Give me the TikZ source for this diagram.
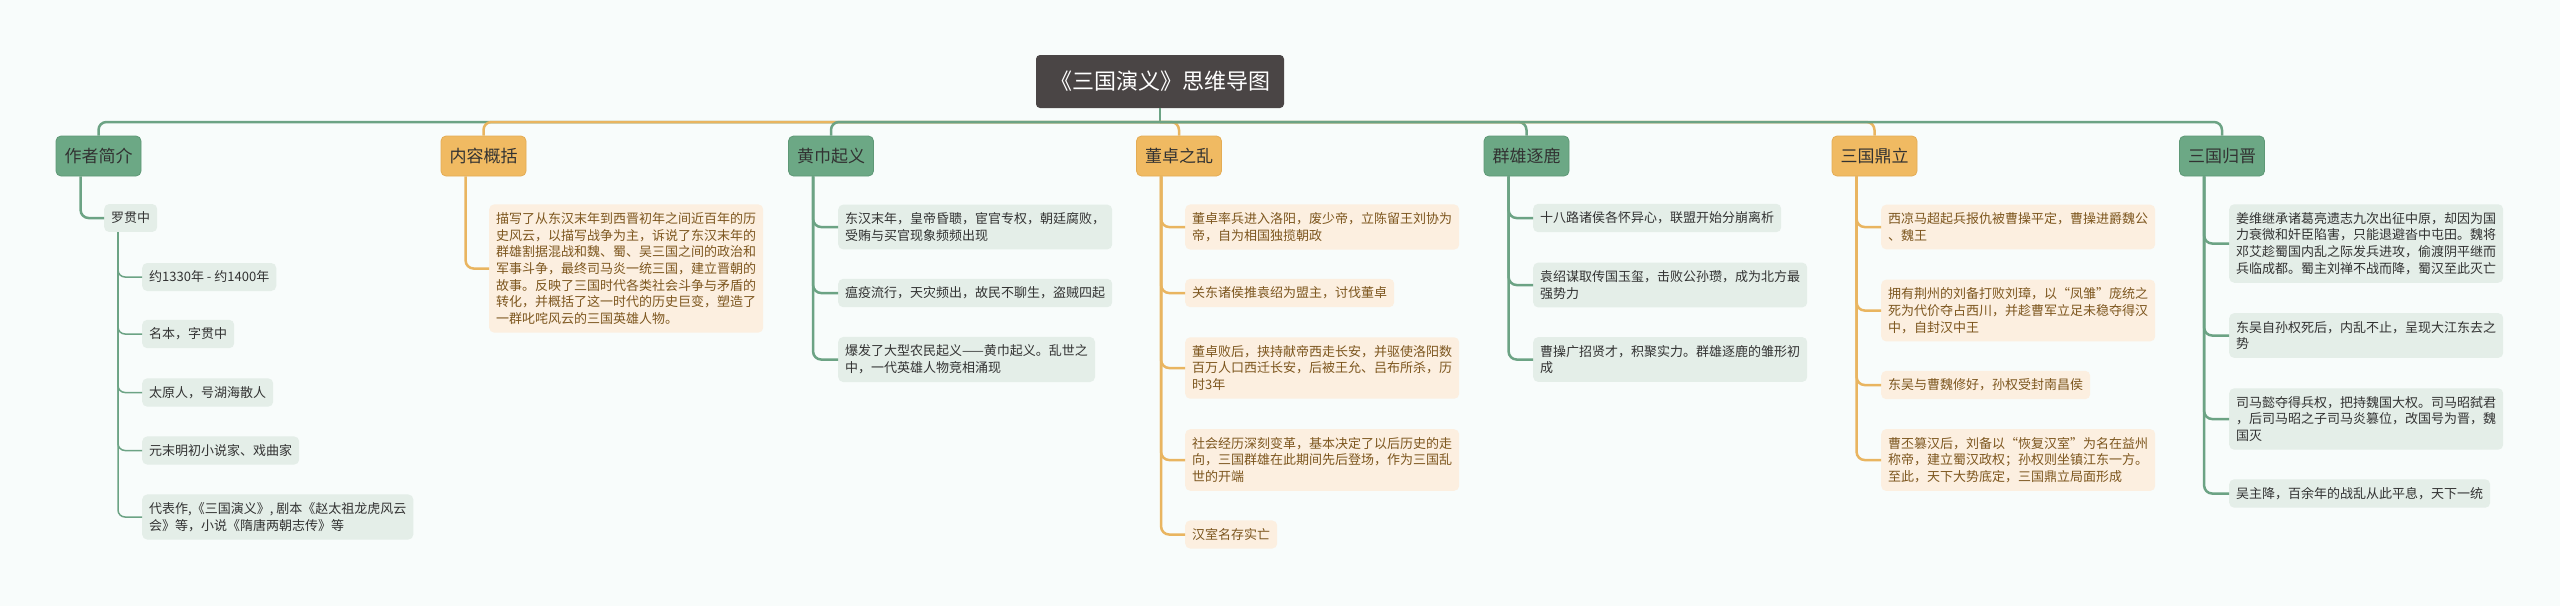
\documentclass[tikz,border=0pt]{standalone}
\usepackage{fontspec}
\newfontfamily\cjk{Noto Sans CJK SC}
\usetikzlibrary{positioning,calc}

\definecolor{bgc}{RGB}{248,252,251}
\definecolor{titlec}{RGB}{74,69,69}
\definecolor{gmain}{RGB}{108,168,133}
\definecolor{gmainb}{RGB}{94,152,118}
\definecolor{omain}{RGB}{240,186,98}
\definecolor{omainb}{RGB}{228,172,84}
\definecolor{gln}{RGB}{108,163,132}
\definecolor{oln}{RGB}{233,181,96}
\definecolor{gleaf}{RGB}{228,238,232}
\definecolor{oleaf}{RGB}{252,239,224}
\definecolor{otext}{RGB}{125,86,30}
\definecolor{dtext}{RGB}{50,50,50}

\tikzset{
  glink/.style={draw=gln,line width=2.5pt,rounded corners=8pt},
  olink/.style={draw=oln,line width=2.5pt,rounded corners=8pt},
  sublink/.style={draw=gln,line width=1.5pt,rounded corners=7pt},
  topic/.style={rounded corners=5pt,minimum width=85pt,minimum height=40pt,
    line width=0.8pt,text=dtext,font=\cjk\fontsize{17}{20}\selectfont},
  gtopic/.style={topic,fill=gmain,draw=gmainb},
  otopic/.style={topic,fill=omain,draw=omainb},
  leaf/.style={anchor=west,rounded corners=5pt,align=left,inner xsep=7pt,inner ysep=8pt,
    font=\cjk\fontsize{13}{16.7}\selectfont},
  gleafbox/.style={leaf,fill=gleaf,text=dtext},
  oleafbox/.style={leaf,fill=oleaf,text=otext}
}

\begin{document}
\begin{tikzpicture}[x=1pt,y=-1pt]
  \fill[bgc] (0,0) rectangle (2560,606);
  \useasboundingbox (0,0) rectangle (2560,606);

  \node[fill=titlec,rounded corners=4pt,minimum width=248pt,minimum height=53pt,
    text=white,font=\cjk\fontsize{22}{26}\selectfont] (root) at (1160,81.5) {《三国演义》思维导图};
  \coordinate (hub) at (1160,122);

  % main topics
  \node[gtopic] (zz) at (98.5,156) {作者简介};
  \node[otopic] (nr) at (483.5,156) {内容概括};
  \node[gtopic] (hj) at (831,156) {黄巾起义};
  \node[otopic] (dz) at (1179,156) {董卓之乱};
  \node[gtopic] (qx) at (1526.5,156) {群雄逐鹿};
  \node[otopic] (dl) at (1874.5,156) {三国鼎立};
  \node[gtopic] (gj) at (2222,156) {三国归晋};

  \draw[glink] (root) -- (hub);
  \draw[glink] (hub) -| (zz.north);
  \draw[olink] (hub) -| (nr.north);
  \draw[glink] (hub) -| (hj.north);
  \draw[olink] (hub) -| (dz.north);
  \draw[glink] (hub) -| (qx.north);
  \draw[olink] (hub) -| (dl.north);
  \draw[glink] (hub) -| (gj.north);

  % 作者简介
  \node[gleafbox] (lgz) at (104,218) {罗贯中};
    \node[gleafbox] (lgz1) at (142,277) {约1330年 - 约1400年};
    \node[gleafbox] (lgz2) at (142,334) {名本，字贯中};
    \node[gleafbox] (lgz3) at (142,392.5) {太原人，号湖海散人};
    \node[gleafbox] (lgz4) at (142,450.5) {元末明初小说家、戏曲家};
    \node[gleafbox] (lgz5) at (142,517) {代表作,《三国演义》, 剧本《赵太祖龙虎风云\\会》等，小说《隋唐两朝志传》等};
  \draw[glink] ([xshift=25pt]zz.south west) |- (lgz.west);
  \foreach \i in {1,...,5}
    \draw[sublink] ([xshift=14pt]lgz.south west) |- (lgz\i.west);

  % 内容概括
  \node[oleafbox] (nr1) at (489,268.5) {描写了从东汉末年到西晋初年之间近百年的历\\史风云，以描写战争为主，诉说了东汉末年的\\群雄割据混战和魏、蜀、吴三国之间的政治和\\军事斗争，最终司马炎一统三国，建立晋朝的\\故事。反映了三国时代各类社会斗争与矛盾的\\转化，并概括了这一时代的历史巨变，塑造了\\一群叱咤风云的三国英雄人物。};
  \draw[olink] ([xshift=25pt]nr.south west) |- (nr1.west);

  % 黄巾起义
  \node[gleafbox] (hj1) at (838,227) {东汉末年，皇帝昏聩，宦官专权，朝廷腐败，\\受贿与买官现象频频出现};
  \node[gleafbox] (hj2) at (838,293) {瘟疫流行，天灾频出，故民不聊生，盗贼四起};
  \node[gleafbox] (hj3) at (838,359.5) {爆发了大型农民起义——黄巾起义。乱世之\\中，一代英雄人物竞相涌现};
  \foreach \i in {1,2,3}
    \draw[glink] ([xshift=25pt]hj.south west) |- (hj\i.west);

  % 董卓之乱
  \node[oleafbox] (dz1) at (1185,227) {董卓率兵进入洛阳，废少帝，立陈留王刘协为\\帝，自为相国独揽朝政};
  \node[oleafbox] (dz2) at (1185,293) {关东诸侯推袁绍为盟主，讨伐董卓};
  \node[oleafbox] (dz3) at (1185,368) {董卓败后，挟持献帝西走长安，并驱使洛阳数\\百万人口西迁长安，后被王允、吕布所杀，历\\时3年};
  \node[oleafbox] (dz4) at (1185,460) {社会经历深刻变革，基本决定了以后历史的走\\向，三国群雄在此期间先后登场，作为三国乱\\世的开端};
  \node[oleafbox] (dz5) at (1185,534.5) {汉室名存实亡};
  \foreach \i in {1,...,5}
    \draw[olink] ([xshift=25pt]dz.south west) |- (dz\i.west);

  % 群雄逐鹿
  \node[gleafbox] (qx1) at (1533,218) {十八路诸侯各怀异心，联盟开始分崩离析};
  \node[gleafbox] (qx2) at (1533,285) {袁绍谋取传国玉玺，击败公孙瓒，成为北方最\\强势力};
  \node[gleafbox] (qx3) at (1533,359.5) {曹操广招贤才，积聚实力。群雄逐鹿的雏形初\\成};
  \foreach \i in {1,2,3}
    \draw[glink] ([xshift=25pt]qx.south west) |- (qx\i.west);

  % 三国鼎立
  \node[oleafbox] (dl1) at (1881,227) {西凉马超起兵报仇被曹操平定，曹操进爵魏公\\、魏王};
  \node[oleafbox] (dl2) at (1881,310.5) {拥有荆州的刘备打败刘璋，以“凤雏”庞统之\\死为代价夺占西川，并趁曹军立足未稳夺得汉\\中，自封汉中王};
  \node[oleafbox] (dl3) at (1881,385) {东吴与曹魏修好，孙权受封南昌侯};
  \node[oleafbox] (dl4) at (1881,460) {曹丕篡汉后，刘备以“恢复汉室”为名在益州\\称帝，建立蜀汉政权；孙权则坐镇江东一方。\\至此，天下大势底定，三国鼎立局面形成};
  \foreach \i in {1,...,4}
    \draw[olink] ([xshift=25pt]dl.south west) |- (dl\i.west);

  % 三国归晋
  \node[gleafbox] (gj1) at (2229,243.5) {姜维继承诸葛亮遗志九次出征中原，却因为国\\力衰微和奸臣陷害，只能退避沓中屯田。魏将\\邓艾趁蜀国内乱之际发兵进攻，偷渡阴平继而\\兵临成都。蜀主刘禅不战而降，蜀汉至此灭亡};
  \node[gleafbox] (gj2) at (2229,335.5) {东吴自孙权死后，内乱不止，呈现大江东去之\\势};
  \node[gleafbox] (gj3) at (2229,419) {司马懿夺得兵权，把持魏国大权。司马昭弑君\\，后司马昭之子司马炎篡位，改国号为晋，魏\\国灭};
  \node[gleafbox] (gj4) at (2229,493.5) {吴主降，百余年的战乱从此平息，天下一统};
  \foreach \i in {1,...,4}
    \draw[glink] ([xshift=25pt]gj.south west) |- (gj\i.west);
\end{tikzpicture}
\end{document}
